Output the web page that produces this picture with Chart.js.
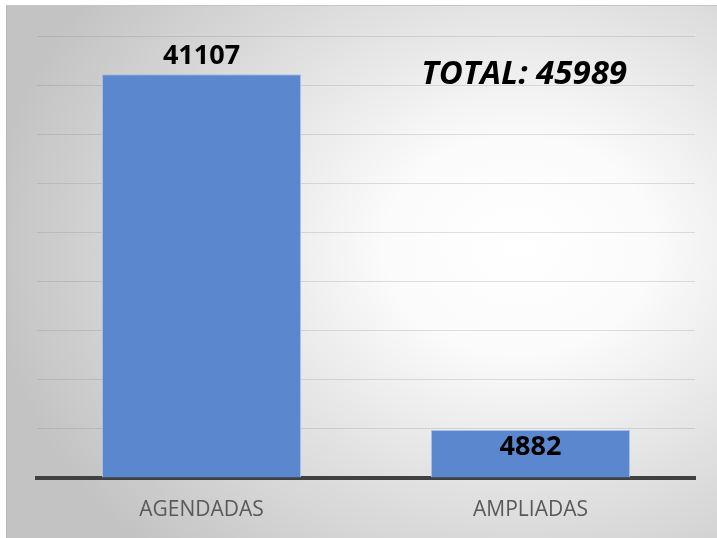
<!DOCTYPE html>
<html lang="es">
<head>
<meta charset="utf-8">
<title>Agendadas vs Ampliadas</title>
<script src="https://cdn.jsdelivr.net/npm/chart.js@4/dist/chart.umd.min.js"></script>
<style>
  html, body { margin: 0; padding: 0; background: #fff; }
  #marco {
    position: absolute;
    left: 6px; top: 5px;
    width: 710px; height: 532px;
    border-left: 1px solid #b8b8b8;
    border-top: 1px solid #c4c4c4;
    background: radial-gradient(ellipse 75% 80% at 72% 45%, #ffffff 0%, #fbfbfb 25%, #e0e0e0 60%, #c3c3c3 100%);
  }
  canvas { display: block; }
</style>
</head>
<body>
<div id="marco">
  <canvas id="grafico" width="710" height="532"></canvas>
</div>
<script>
/* ===========================
   Citas agendadas / ampliadas
   =========================== */

const CATEGORIAS = ['AGENDADAS', 'AMPLIADAS'];
const VALORES = [41107, 4882];
const TOTAL = 45989;
const TEXTO_TOTAL = 'TOTAL: ' + TOTAL;

const FUENTE = '"Open Sans", "DejaVu Sans", sans-serif';

// --------- Etiquetas de valor y total ---------

const etiquetasPlugin = {
  id: 'etiquetas',
  afterDatasetsDraw(chart) {
    const { ctx, chartArea } = chart;
    const meta = chart.getDatasetMeta(0);
    ctx.save();
    ctx.fillStyle = '#000';
    ctx.textAlign = 'center';
    ctx.textBaseline = 'middle';
    ctx.font = 'bold 27px ' + FUENTE;
    meta.data.forEach((bar, i) => {
      const alto = bar.base - bar.y;
      // barras cortas: el valor va dentro de la barra
      const y = alto < 60 ? bar.y + 17 : bar.y - 18;
      ctx.fillText(String(VALORES[i]), bar.x, y);
    });

    ctx.font = 'italic bold 33px ' + FUENTE;
    ctx.textAlign = 'right';
    ctx.fillText(TEXTO_TOTAL, chartArea.right - 68, chartArea.top + 39);
    ctx.restore();
  }
};

new Chart(document.getElementById('grafico'), {
  type: 'bar',
  data: {
    labels: CATEGORIAS,
    datasets: [{
      data: VALORES,
      backgroundColor: '#5B87CE',
      borderColor: 'rgba(160, 188, 232, 0.9)',
      borderWidth: 1,
      categoryPercentage: 1,
      barPercentage: 0.605,
    }],
  },
  options: {
    responsive: false,
    animation: false,
    layout: { padding: { left: 30, right: 22, top: 30, bottom: 0 } },
    plugins: {
      legend: { display: false },
      tooltip: { enabled: false },
    },
    scales: {
      x: {
        grid: { display: false, drawTicks: false },
        border: { display: true, color: '#404040', width: 4 },
        ticks: { color: '#595959', font: { family: FUENTE, size: 21 }, padding: 19 },
        afterFit(s) { s.height = 60; },
      },
      y: {
        min: 0,
        max: 45000,
        ticks: { display: false, stepSize: 5000 },
        grid: { color: 'rgba(120, 120, 120, 0.22)', lineWidth: 1, drawTicks: false },
        border: { display: false },
        afterFit(s) { s.width = 0; },
      },
    },
  },
  plugins: [etiquetasPlugin],
});
</script>
</body>
</html>
